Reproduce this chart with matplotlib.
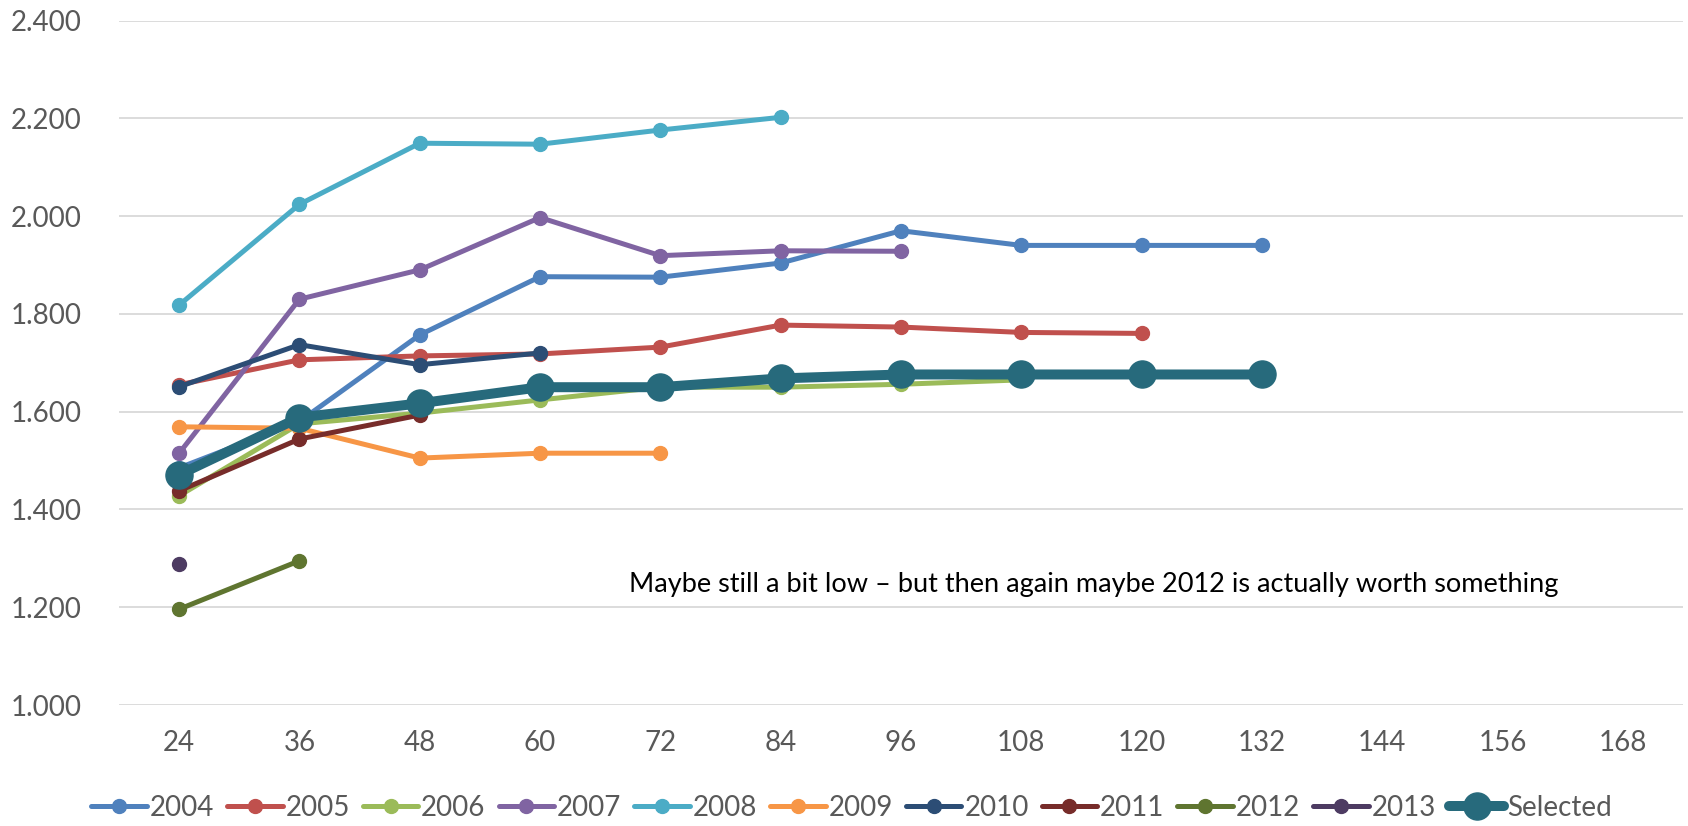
import matplotlib
matplotlib.use("Agg")
import matplotlib.pyplot as plt

plt.rcParams["font.family"] = ["Lato", "DejaVu Sans"]

# Development age (months) on the category axis
months = [24, 36, 48, 60, 72, 84, 96, 108, 120, 132, 144, 156, 168]

# Age-to-age factors by accident year
y2004 = [1.485, 1.580, 1.757, 1.876, 1.875, 1.904, 1.970, 1.940, 1.940, 1.940]
y2005 = [1.655, 1.706, 1.714, 1.718, 1.732, 1.777, 1.773, 1.762, 1.760]
y2006 = [1.428, 1.575, 1.597, 1.624, 1.650, 1.650, 1.656, 1.665]
y2007 = [1.515, 1.830, 1.890, 1.997, 1.919, 1.929, 1.928]
y2008 = [1.818, 2.024, 2.149, 2.147, 2.176, 2.202]
y2009 = [1.569, 1.566, 1.505, 1.515, 1.515]
y2010 = [1.651, 1.737, 1.696, 1.720]
y2011 = [1.438, 1.544, 1.593]
y2012 = [1.196, 1.295]
y2013 = [1.289]
selected = [1.471, 1.588, 1.617, 1.650, 1.650, 1.668, 1.676, 1.676, 1.676, 1.676]

series = [
    ("2004", y2004, "#4F81BD"),
    ("2005", y2005, "#C0504D"),
    ("2006", y2006, "#9BBB59"),
    ("2007", y2007, "#8064A2"),
    ("2008", y2008, "#4BACC6"),
    ("2009", y2009, "#F79646"),
    ("2010", y2010, "#2C4D75"),
    ("2011", y2011, "#772C2A"),
    ("2012", y2012, "#5F7530"),
    ("2013", y2013, "#4D3B62"),
]

note = "Maybe still a bit low \u2013 but then again maybe 2012 is actually worth something"

fig = plt.figure(figsize=(16.88, 8.26), dpi=100)
ax = fig.add_axes([119 / 1688, 121 / 826, 1564 / 1688, 684.5 / 826])

for name, vals, color in series:
    ax.plot(months[:len(vals)], vals, color=color, lw=3.6, marker="o", ms=10,
            solid_joinstyle="round", solid_capstyle="round", label=name)

ax.plot(months[:len(selected)], selected, color="#276A7C", lw=7.2, marker="o", ms=19.5,
        solid_joinstyle="round", solid_capstyle="round", label="Selected")

ax.set_xlim(18, 174)
ax.set_ylim(1.0, 2.4)
ax.set_xticks(months)
ax.set_xticklabels([str(m) for m in months])
yt = [1.0, 1.2, 1.4, 1.6, 1.8, 2.0, 2.2, 2.4]
ax.set_yticks(yt)
ax.set_yticklabels([f"{v:.3f}" for v in yt])
ax.grid(axis="y", color="#D9D9D9", lw=1.3)
ax.set_axisbelow(True)
for s in ax.spines.values():
    s.set_visible(False)
ax.tick_params(axis="both", length=0, labelsize=20, labelcolor="#595959")
ax.tick_params(axis="y", pad=27)
ax.tick_params(axis="x", pad=18)

ax.text(68.9, 1.2313, note, fontsize=19.5, color="#000000", ha="left", va="baseline")

handles, labels = ax.get_legend_handles_labels()
fig.legend(handles, labels, loc="center", bbox_to_anchor=(0.5045, 1 - 808 / 826),
           ncol=11, frameon=False, fontsize=20, labelcolor="#595959",
           handlelength=2.0, handletextpad=0.1, columnspacing=0.47,
           numpoints=1)

fig.savefig("out.png", dpi=100, facecolor="white")
